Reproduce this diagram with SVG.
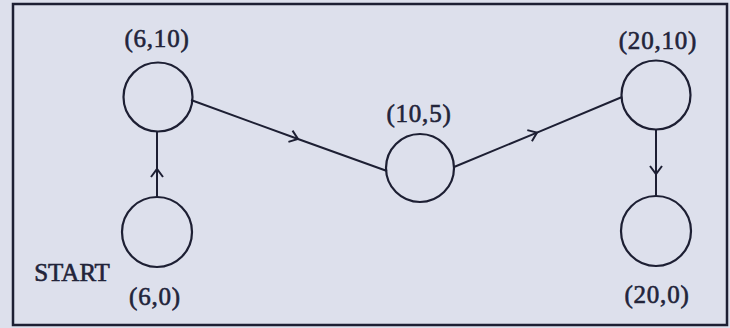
<svg xmlns="http://www.w3.org/2000/svg" width="730" height="328" viewBox="0 0 730 328">
<style>
.node{fill:none;stroke:#1d1f33;stroke-width:2.2}
.edge{fill:none;stroke:#1d1f33;stroke-width:2;marker-mid:url(#chev)}
.lbl{font-family:"Liberation Serif","Times New Roman",serif;font-size:25px;fill:#22243a;stroke:#22243a;stroke-width:0.6;text-anchor:middle;letter-spacing:0.8px}
</style>
<defs>
<marker id="chev" markerUnits="userSpaceOnUse" markerWidth="20" markerHeight="20" refX="0" refY="0" viewBox="-10 -10 20 20" orient="auto" overflow="visible">
<path d="M-8,-6 L0,0 L-8,6" fill="none" stroke="#1d1f33" stroke-width="2"/>
</marker>
</defs>
<rect x="0" y="0" width="730" height="328" fill="#dde0ec"/>
<rect x="13" y="4" width="714" height="321" fill="none" stroke="#1d1f33" stroke-width="2.5"/>
<g id="connectors">
<polyline class="edge" points="157,197 157,169 157,132"/>
<polyline class="edge" points="191,100 298,139 387,171"/>
<polyline class="edge" points="454,167 537,132.6 622,97"/>
<polyline class="edge" points="656,130 656,174 656,196"/>
</g>
<g id="n610"><circle class="node" cx="158" cy="97" r="34.5"/><text class="lbl" x="157" y="47">(6,10)</text></g>
<g id="n105"><circle class="node" cx="420" cy="168" r="34"/><text class="lbl" x="419" y="122">(10,5)</text></g>
<g id="n2010"><circle class="node" cx="656" cy="95" r="34.5"/><text class="lbl" x="658" y="49">(20,10)</text></g>
<g id="n60"><circle class="node" cx="157" cy="232" r="35"/><text class="lbl" x="155" y="305">(6,0)</text><text class="lbl" x="72" y="281" style="font-size:25px;letter-spacing:0">START</text></g>
<g id="n200"><circle class="node" cx="656" cy="231" r="35"/><text class="lbl" x="657" y="303">(20,0)</text></g>
</svg>
